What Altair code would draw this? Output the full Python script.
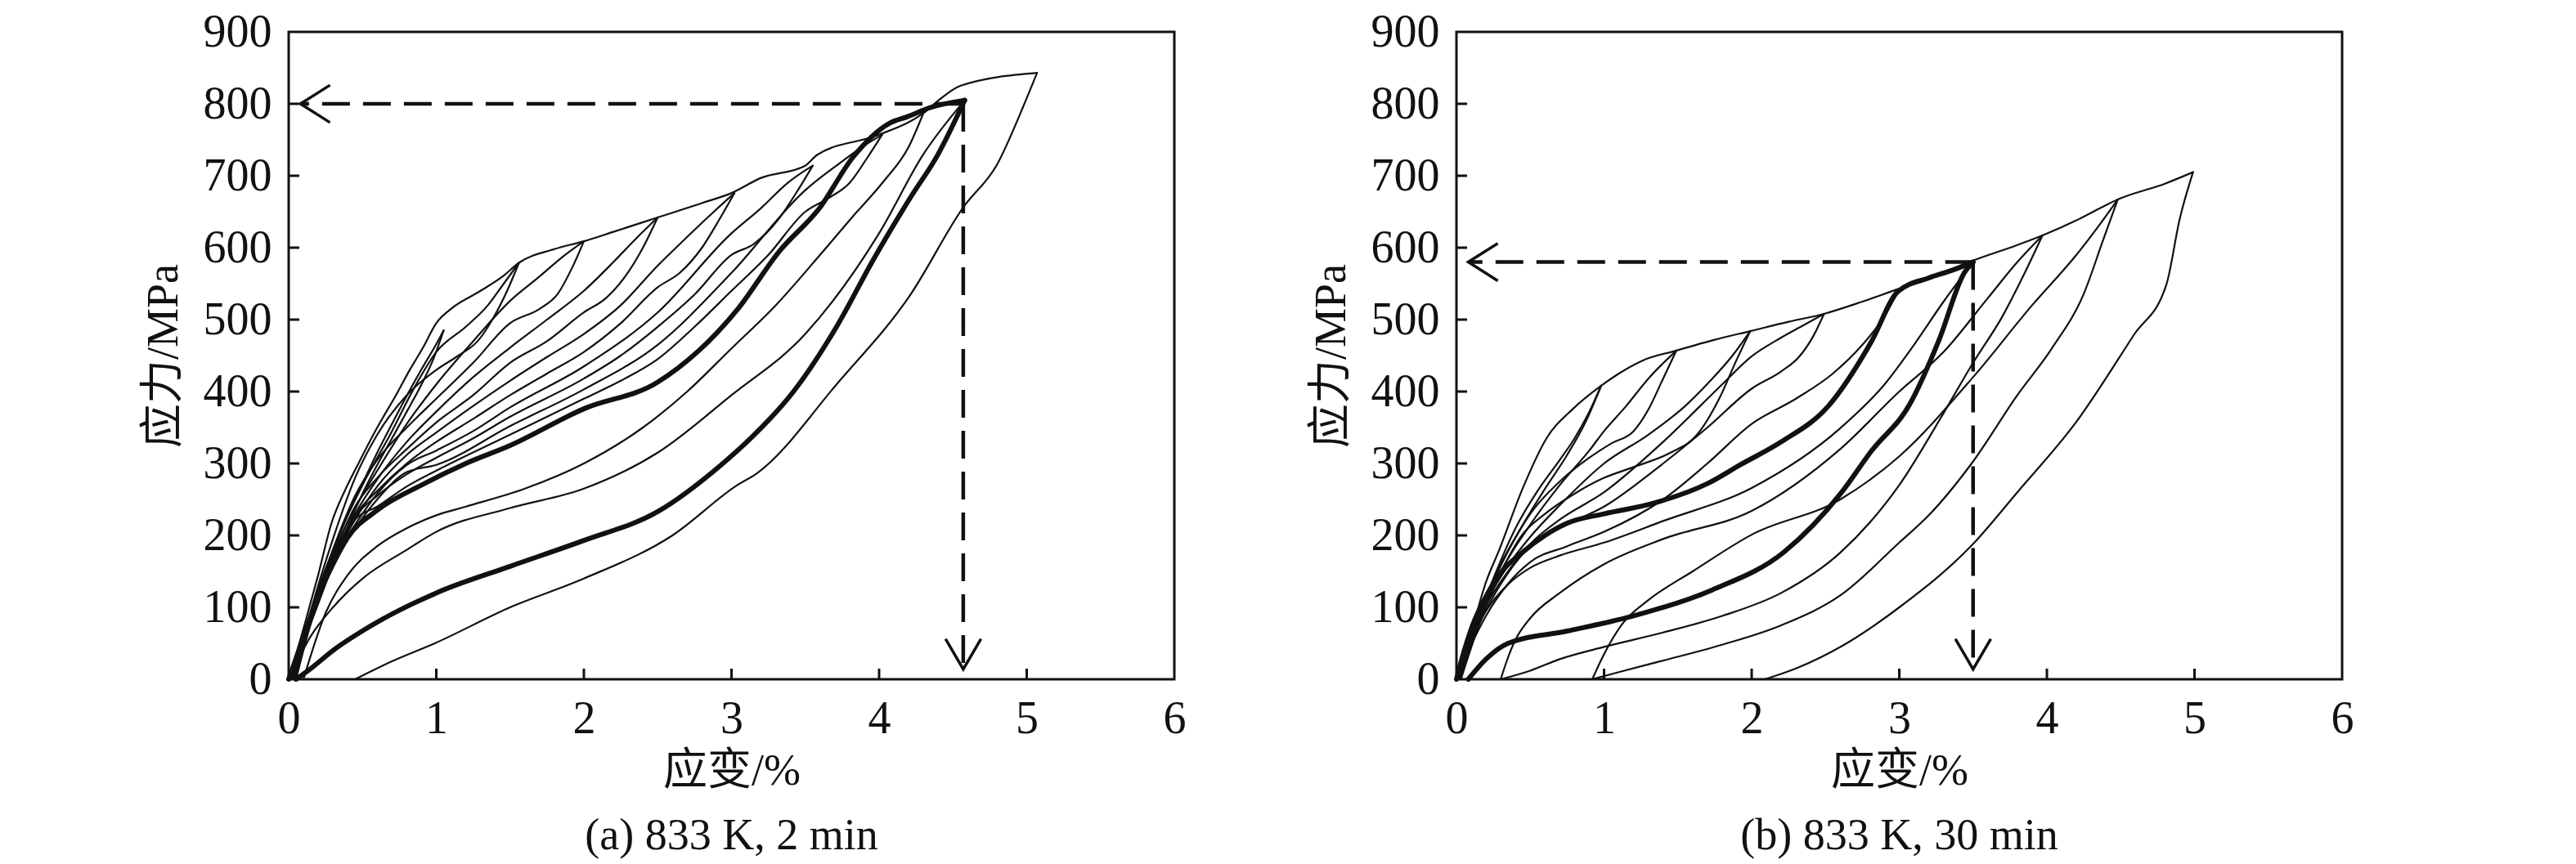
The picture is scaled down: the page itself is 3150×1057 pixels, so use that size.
import altair as alt
import pandas as pd

# ---------------- data ----------------
X_TICKS = [0, 1, 2, 3, 4, 5, 6]
Y_TICKS = [0, 100, 200, 300, 400, 500, 600, 700, 800, 900]
X_TICK_MARKS = [1, 2, 3, 4, 5]
Y_TICK_MARKS = [100, 200, 300, 400, 500, 600, 700, 800]

CAPTION_A = ["(a) 833 K, 2 min"]
CAPTION_B = ["(b) 833 K, 30 min"]
X_TITLE = "应变/%"
Y_TITLE = "应力/MPa"

# ---- panel (a) ----
A_ENV_X = [0, 0.1, 0.2, 0.29, 0.38, 0.47, 0.6, 0.73, 0.82, 0.91, 1.0, 1.1, 1.3, 1.45, 1.56, 1.8, 2.0, 2.2, 2.5, 2.8, 3.0, 3.2, 3.5, 3.58, 4.0, 4.3, 4.41, 4.55, 5.07]
A_ENV_Y = [0, 70, 145, 217, 262, 299, 350, 396, 430, 461, 495, 515, 540, 560, 579, 598, 609, 622, 642, 662, 676, 697, 714, 729, 757, 787, 806, 825, 843]
A_L2_X = [0, 0.1, 0.2, 0.3, 0.4, 0.5, 0.6, 0.7, 0.8, 0.9, 1.0, 1.05]
A_L2_Y = [0, 62, 125, 178, 228, 272, 315, 355, 394, 431, 466, 485]
A_U1_X = [1.05, 0.98, 0.9, 0.8, 0.7, 0.6, 0.5, 0.4, 0.3, 0.2, 0.1, 0.02]
A_U1_Y = [485, 445, 410, 372, 335, 298, 258, 212, 160, 105, 50, 0]
A_L3_X = [0, 0.1, 0.2, 0.3, 0.4, 0.5, 0.7, 0.85, 1.0, 1.2, 1.35, 1.45, 1.56]
A_L3_Y = [0, 62, 125, 180, 228, 270, 345, 405, 455, 490, 520, 548, 579]
A_U2_X = [1.56, 1.48, 1.38, 1.28, 1.15, 1.0, 0.8, 0.6, 0.45, 0.3, 0.15, 0.03]
A_U2_Y = [579, 540, 500, 470, 450, 430, 395, 340, 280, 195, 95, 0]
A_L4_X = [0, 0.1, 0.2, 0.3, 0.45, 0.6, 0.8, 1.0, 1.25, 1.5, 1.7, 1.86, 2.0]
A_L4_Y = [0, 60, 122, 175, 238, 290, 355, 410, 470, 526, 560, 588, 609]
A_U3_X = [2.0, 1.92, 1.82, 1.7, 1.5, 1.25, 1.0, 0.8, 0.6, 0.45, 0.3, 0.15, 0.03]
A_U3_Y = [609, 572, 535, 515, 495, 440, 390, 350, 305, 255, 180, 88, 0]
A_L5_X = [0, 0.1, 0.2, 0.3, 0.45, 0.6, 0.8, 1.0, 1.25, 1.5, 1.75, 2.0, 2.2, 2.35, 2.5]
A_L5_Y = [0, 60, 120, 170, 230, 278, 330, 372, 420, 461, 500, 540, 580, 612, 642]
A_U4_X = [2.5, 2.4, 2.28, 2.15, 2.0, 1.75, 1.5, 1.25, 1.0, 0.8, 0.6, 0.45, 0.3, 0.15, 0.04]
A_U4_Y = [642, 600, 560, 530, 510, 470, 440, 395, 357, 320, 280, 240, 170, 82, 0]
A_L6_X = [0, 0.1, 0.2, 0.3, 0.45, 0.6, 0.8, 1.0, 1.25, 1.5, 1.75, 2.0, 2.25, 2.5, 2.7, 2.87, 3.02]
A_L6_Y = [0, 60, 118, 166, 222, 268, 312, 343, 380, 415, 448, 480, 520, 575, 615, 648, 676]
A_U5_X = [3.02, 2.92, 2.8, 2.65, 2.5, 2.25, 2.0, 1.75, 1.5, 1.25, 1.0, 0.8, 0.6, 0.45, 0.3, 0.15, 0.04]
A_U5_Y = [676, 640, 600, 565, 545, 495, 455, 425, 395, 362, 330, 300, 262, 228, 165, 80, 0]
A_L7_X = [0, 0.1, 0.2, 0.3, 0.45, 0.6, 0.8, 1.0, 1.25, 1.5, 2.0, 2.5, 3.0, 3.2, 3.38, 3.55]
A_L7_Y = [0, 62, 118, 164, 215, 258, 298, 318, 345, 378, 435, 510, 620, 655, 690, 714]
A_U6_X = [3.55, 3.45, 3.32, 3.15, 3.0, 2.75, 2.5, 2.25, 2.0, 1.5, 1.25, 1.0, 0.8, 0.6, 0.45, 0.3, 0.15, 0.04]
A_U6_Y = [714, 680, 640, 605, 590, 535, 490, 450, 418, 365, 335, 308, 285, 255, 226, 162, 78, 0]
A_L8_X = [0, 0.1, 0.2, 0.3, 0.45, 0.6, 0.8, 1.0, 1.5, 2.0, 2.5, 3.0, 3.5, 3.75, 3.9, 4.02]
A_L8_Y = [0, 64, 120, 162, 210, 250, 288, 298, 352, 403, 465, 565, 680, 720, 742, 757]
A_U7_X = [4.02, 3.92, 3.8, 3.65, 3.5, 3.25, 3.0, 2.75, 2.5, 2.25, 2.0, 1.5, 1.0, 0.8, 0.6, 0.45, 0.3, 0.15, 0.05]
A_U7_Y = [757, 725, 690, 668, 650, 590, 540, 490, 445, 415, 390, 340, 290, 268, 240, 222, 160, 78, 0]
A_L9_X = [0, 0.1, 0.2, 0.3, 0.4, 0.6, 0.9, 1.2, 1.5, 2.0, 2.5, 3.04, 3.32, 3.6, 3.82, 4.07, 4.19, 4.35, 4.58]
A_L9_Y = [0, 58, 115, 160, 197, 235, 270, 300, 325, 376, 413, 514, 594, 656, 725, 773, 782, 795, 805]
A_U8_X = [4.3, 4.2, 4.03, 3.82, 3.6, 3.3, 3.0, 2.7, 2.4, 2.0, 1.6, 1.2, 1.0, 0.8, 0.6, 0.4, 0.25, 0.1]
A_U8_Y = [787, 740, 692, 643, 590, 520, 460, 400, 350, 300, 265, 240, 228, 210, 185, 145, 92, 0]
A_L10_X = [0, 0.15, 0.3, 0.5, 0.8, 1.0, 1.5, 2.0, 2.5, 3.0, 3.5, 4.0, 4.3, 4.58]
A_L10_Y = [0, 60, 100, 140, 180, 205, 238, 265, 315, 395, 480, 620, 730, 805]
A_U9_X = [4.58, 4.4, 4.21, 3.96, 3.72, 3.42, 3.13, 2.93, 2.5, 2.0, 1.5, 1.0, 0.53, 0.3, 0.15, 0.05]
A_U9_Y = [805, 730, 669, 583, 493, 400, 335, 298, 233, 193, 157, 120, 71, 40, 15, 0]
A_U10_X = [5.07, 4.98, 4.8, 4.57, 4.21, 3.72, 3.17, 3.04, 2.6, 2.0, 1.5, 0.99, 0.7, 0.45]
A_U10_Y = [843, 798, 716, 656, 534, 412, 286, 270, 200, 140, 100, 50, 25, 0]
A_THICK = ["L9", "U9"]
A_PEAK = [4.57, 800]

# ---- panel (b) ----
B_ENV_X = [0, 0.1, 0.2, 0.29, 0.45, 0.61, 0.79, 0.98, 1.1, 1.26, 1.49, 1.75, 1.99, 2.25, 2.49, 2.75, 3.0, 3.25, 3.5, 3.75, 3.97, 4.2, 4.37, 4.48, 4.8, 4.99]
B_ENV_Y = [0, 65, 135, 180, 266, 335, 376, 408, 425, 443, 457, 472, 484, 497, 508, 525, 543, 560, 582, 600, 617, 638, 656, 667, 689, 705]
B_L2_X = [0, 0.1, 0.2, 0.3, 0.45, 0.6, 0.75, 0.88, 0.98]
B_L2_Y = [0, 60, 115, 160, 215, 265, 312, 360, 408]
B_U1_X = [0.98, 0.9, 0.8, 0.7, 0.55, 0.4, 0.25, 0.12, 0.03]
B_U1_Y = [408, 372, 335, 305, 262, 210, 140, 70, 0]
B_L3_X = [0, 0.1, 0.2, 0.35, 0.5, 0.7, 0.9, 1.0, 1.15, 1.3, 1.49]
B_L3_Y = [0, 58, 110, 168, 215, 270, 318, 345, 380, 418, 457]
B_U2_X = [1.49, 1.4, 1.3, 1.2, 1.05, 0.9, 0.7, 0.5, 0.35, 0.2, 0.08, 0.02]
B_U2_Y = [457, 418, 375, 345, 328, 308, 275, 230, 178, 112, 48, 0]
B_L4_X = [0, 0.1, 0.2, 0.35, 0.5, 0.7, 1.0, 1.3, 1.55, 1.72, 1.87, 1.99]
B_L4_Y = [0, 56, 106, 158, 198, 242, 300, 340, 380, 415, 450, 484]
B_U3_X = [1.99, 1.9, 1.78, 1.63, 1.45, 1.2, 1.0, 0.8, 0.6, 0.45, 0.3, 0.15, 0.03]
B_U3_Y = [484, 445, 390, 340, 315, 295, 280, 258, 230, 202, 148, 74, 0]
B_L5_X = [0, 0.1, 0.2, 0.35, 0.5, 0.7, 1.0, 1.4, 1.8, 2.0, 2.2, 2.35, 2.49]
B_L5_Y = [0, 55, 102, 150, 188, 222, 260, 330, 410, 449, 475, 492, 508]
B_U4_X = [2.49, 2.42, 2.32, 2.2, 2.0, 1.7, 1.4, 1.0, 0.75, 0.5, 0.35, 0.2, 0.08, 0.02]
B_U4_Y = [508, 478, 448, 428, 404, 350, 300, 240, 215, 185, 148, 96, 40, 0]
B_L6_X = [0, 0.05, 0.1, 0.2, 0.3, 0.45, 0.6, 0.75, 1.0, 1.34, 1.7, 1.93, 2.2, 2.52, 2.81, 2.99, 3.2, 3.35, 3.5]
B_L6_Y = [0, 38, 70, 115, 148, 177, 200, 217, 230, 245, 272, 299, 330, 380, 469, 539, 558, 568, 580]
B_U5_X = [3.0, 2.9, 2.75, 2.55, 2.3, 2.0, 1.7, 1.4, 1.0, 0.75, 0.5, 0.35, 0.2, 0.08, 0.02]
B_U5_Y = [543, 505, 465, 425, 390, 355, 300, 250, 205, 185, 163, 133, 88, 37, 0]
B_L7_X = [0, 0.1, 0.2, 0.35, 0.5, 0.7, 1.0, 1.4, 2.0, 2.6, 2.9, 3.1, 3.3, 3.5]
B_L7_Y = [0, 55, 95, 132, 155, 172, 190, 220, 266, 349, 410, 465, 525, 580]
B_U6_X = [3.5, 3.44, 3.27, 3.07, 2.81, 2.61, 2.22, 1.73, 1.18, 0.75, 0.35, 0.2, 0.08]
B_U6_Y = [580, 565, 472, 382, 317, 260, 177, 124, 87, 67, 50, 28, 0]
B_L8_X = [0.3, 0.34, 0.4, 0.5, 0.7, 1.0, 1.4, 2.0, 2.6, 3.0, 3.3, 3.6, 3.8, 3.97]
B_L8_Y = [0, 25, 55, 85, 120, 160, 195, 234, 320, 400, 455, 530, 580, 617]
B_U7_X = [3.97, 3.85, 3.7, 3.5, 3.3, 3.0, 2.6, 2.2, 1.8, 1.4, 1.0, 0.7, 0.5, 0.3]
B_U7_Y = [617, 565, 505, 440, 370, 270, 176, 120, 88, 65, 45, 28, 12, 0]
B_L9_X = [0.92, 1.0, 1.12, 1.3, 1.6, 2.0, 2.6, 3.0, 3.5, 3.9, 4.2, 4.35, 4.48]
B_L9_Y = [0, 35, 76, 110, 150, 201, 250, 310, 420, 520, 590, 630, 667]
B_U8_X = [4.48, 4.38, 4.25, 4.03, 3.8, 3.49, 3.2, 3.0, 2.61, 2.2, 1.8, 1.4, 1.1, 0.92]
B_U8_Y = [667, 610, 536, 459, 395, 300, 228, 190, 118, 75, 48, 26, 10, 0]
B_U9_X = [4.99, 4.9, 4.81, 4.59, 4.2, 3.8, 3.49, 3.0, 2.61, 2.3, 2.09]
B_U9_Y = [705, 640, 549, 479, 358, 260, 186, 100, 46, 15, 0]
B_THICK = ["L6", "U6"]
B_PEAK = [3.5, 580]

ARROW_TIP_STRAIN = 0.08   # left arrow tip
ARROW_TIP_STRESS = 14     # bottom arrow tip

# ---------------- styling ----------------
W, H = 1083, 792
SERIF = "Liberation Serif"
MIXED = "Liberation Serif, Noto Sans CJK SC"
INK = "#111111"


def curves_df(curves, thick):
    rows = []
    for name, xs, ys in curves:
        w = 6.0 if name in thick else 2.2
        for i, (x, y) in enumerate(zip(xs, ys)):
            rows.append({"curve": name, "i": i, "strain": x, "stress": y, "w": w})
    return pd.DataFrame(rows)


def arrows_df(peak):
    px, py = peak
    dash = pd.DataFrame({
        "seg": ["h", "h", "v", "v"],
        "i": [0, 1, 0, 1],
        "strain": [px, ARROW_TIP_STRAIN, px, px],
        "stress": [py, py, py, ARROW_TIP_STRESS],
    })
    heads = pd.DataFrame({
        "seg": ["hl", "hl", "hl", "vd", "vd", "vd"],
        "i": [0, 1, 2, 0, 1, 2],
        "strain": [ARROW_TIP_STRAIN + 0.2, ARROW_TIP_STRAIN, ARROW_TIP_STRAIN + 0.2,
                   px - 0.12, px, px + 0.12],
        "stress": [py + 26, py, py - 26,
                   ARROW_TIP_STRESS + 42, ARROW_TIP_STRESS, ARROW_TIP_STRESS + 42],
    })
    return dash, heads


xscale = alt.Scale(domain=[0, 6], nice=False, zero=False)
yscale = alt.Scale(domain=[0, 900], nice=False, zero=False)

xaxis = alt.Axis(values=X_TICKS, format="d", title=X_TITLE, domain=False, ticks=False,
                 tickSize=0, grid=False, labelFont=SERIF, labelFontSize=56,
                 labelColor=INK, labelPadding=21, labelFlush=False, labelOverlap=False,
                 titleFont=MIXED, titleFontSize=54, titleFontWeight="normal",
                 titleColor=INK, titleX=W / 2, titleY=112, titleBaseline="middle",
                 titleAlign="center", titleAngle=0)
yaxis = alt.Axis(values=Y_TICKS, format="d", title=Y_TITLE, domain=False, ticks=False,
                 tickSize=0, grid=False, labelFont=SERIF, labelFontSize=56,
                 labelColor=INK, labelPadding=21, labelFlush=False, labelOverlap=False,
                 titleFont=MIXED, titleFontSize=54, titleFontWeight="normal",
                 titleColor=INK, titleX=-153, titleY=396, titleBaseline="middle",
                 titleAlign="center", titleAngle=270)

X = alt.X("strain:Q", scale=xscale, axis=xaxis)
Y = alt.Y("stress:Q", scale=yscale, axis=yaxis)


def panel(curves, thick, peak, caption):
    df = curves_df(curves, thick)
    dash, heads = arrows_df(peak)
    lines = alt.Chart(df).mark_line(color=INK, strokeCap="round", strokeJoin="round",
                                    interpolate="monotone").encode(
        x=X, y=Y, detail="curve:N", order="i:Q",
        strokeWidth=alt.StrokeWidth("w:Q", scale=None, legend=None),
    )
    dashed = alt.Chart(dash).mark_line(color=INK, strokeWidth=4.5, strokeDash=[34, 16]).encode(
        x=X, y=Y, detail="seg:N", order="i:Q")
    head = alt.Chart(heads).mark_line(color=INK, strokeWidth=3.5, strokeJoin="miter").encode(
        x=X, y=Y, detail="seg:N", order="i:Q")
    yt = alt.Chart(pd.DataFrame({"stress": Y_TICK_MARKS})).mark_rule(color=INK, strokeWidth=3).encode(
        y=Y, x=alt.value(0), x2=alt.value(13))
    xt = alt.Chart(pd.DataFrame({"strain": X_TICK_MARKS})).mark_rule(color=INK, strokeWidth=3).encode(
        x=X, y=alt.value(H), y2=alt.value(H - 13))
    cap = alt.Chart(pd.DataFrame({"t": caption})).mark_text(
        font=SERIF, fontSize=54, color=INK, baseline="middle", align="center").encode(
        text="t:N", x=alt.value(W / 2), y=alt.value(984))
    return alt.layer(lines, dashed, head, yt, xt, cap).properties(width=W, height=H)


curves_a = [
    ("ENV", A_ENV_X, A_ENV_Y), ("L2", A_L2_X, A_L2_Y), ("U1", A_U1_X, A_U1_Y),
    ("L3", A_L3_X, A_L3_Y), ("U2", A_U2_X, A_U2_Y), ("L4", A_L4_X, A_L4_Y),
    ("U3", A_U3_X, A_U3_Y), ("L5", A_L5_X, A_L5_Y), ("U4", A_U4_X, A_U4_Y),
    ("L6", A_L6_X, A_L6_Y), ("U5", A_U5_X, A_U5_Y), ("L7", A_L7_X, A_L7_Y),
    ("U6", A_U6_X, A_U6_Y), ("L8", A_L8_X, A_L8_Y), ("U7", A_U7_X, A_U7_Y),
    ("L9", A_L9_X, A_L9_Y), ("U8", A_U8_X, A_U8_Y), ("L10", A_L10_X, A_L10_Y),
    ("U9", A_U9_X, A_U9_Y), ("U10", A_U10_X, A_U10_Y),
]
curves_b = [
    ("ENV", B_ENV_X, B_ENV_Y), ("L2", B_L2_X, B_L2_Y), ("U1", B_U1_X, B_U1_Y),
    ("L3", B_L3_X, B_L3_Y), ("U2", B_U2_X, B_U2_Y), ("L4", B_L4_X, B_L4_Y),
    ("U3", B_U3_X, B_U3_Y), ("L5", B_L5_X, B_L5_Y), ("U4", B_U4_X, B_U4_Y),
    ("L6", B_L6_X, B_L6_Y), ("U5", B_U5_X, B_U5_Y), ("L7", B_L7_X, B_L7_Y),
    ("U6", B_U6_X, B_U6_Y), ("L8", B_L8_X, B_L8_Y), ("U7", B_U7_X, B_U7_Y),
    ("L9", B_L9_X, B_L9_Y), ("U8", B_U8_X, B_U8_Y), ("U9", B_U9_X, B_U9_Y),
]

left = panel(curves_a, A_THICK, A_PEAK, CAPTION_A)
right = panel(curves_b, B_THICK, B_PEAK, CAPTION_B)

chart = alt.hconcat(left, right, spacing=345, bounds="flush").properties(
    padding={"left": 163, "top": 1, "right": 10, "bottom": 0},
    background="white",
).configure_view(stroke=INK, strokeWidth=3)

chart.save("out.html", embed_options={"renderer": "svg", "actions": False})
